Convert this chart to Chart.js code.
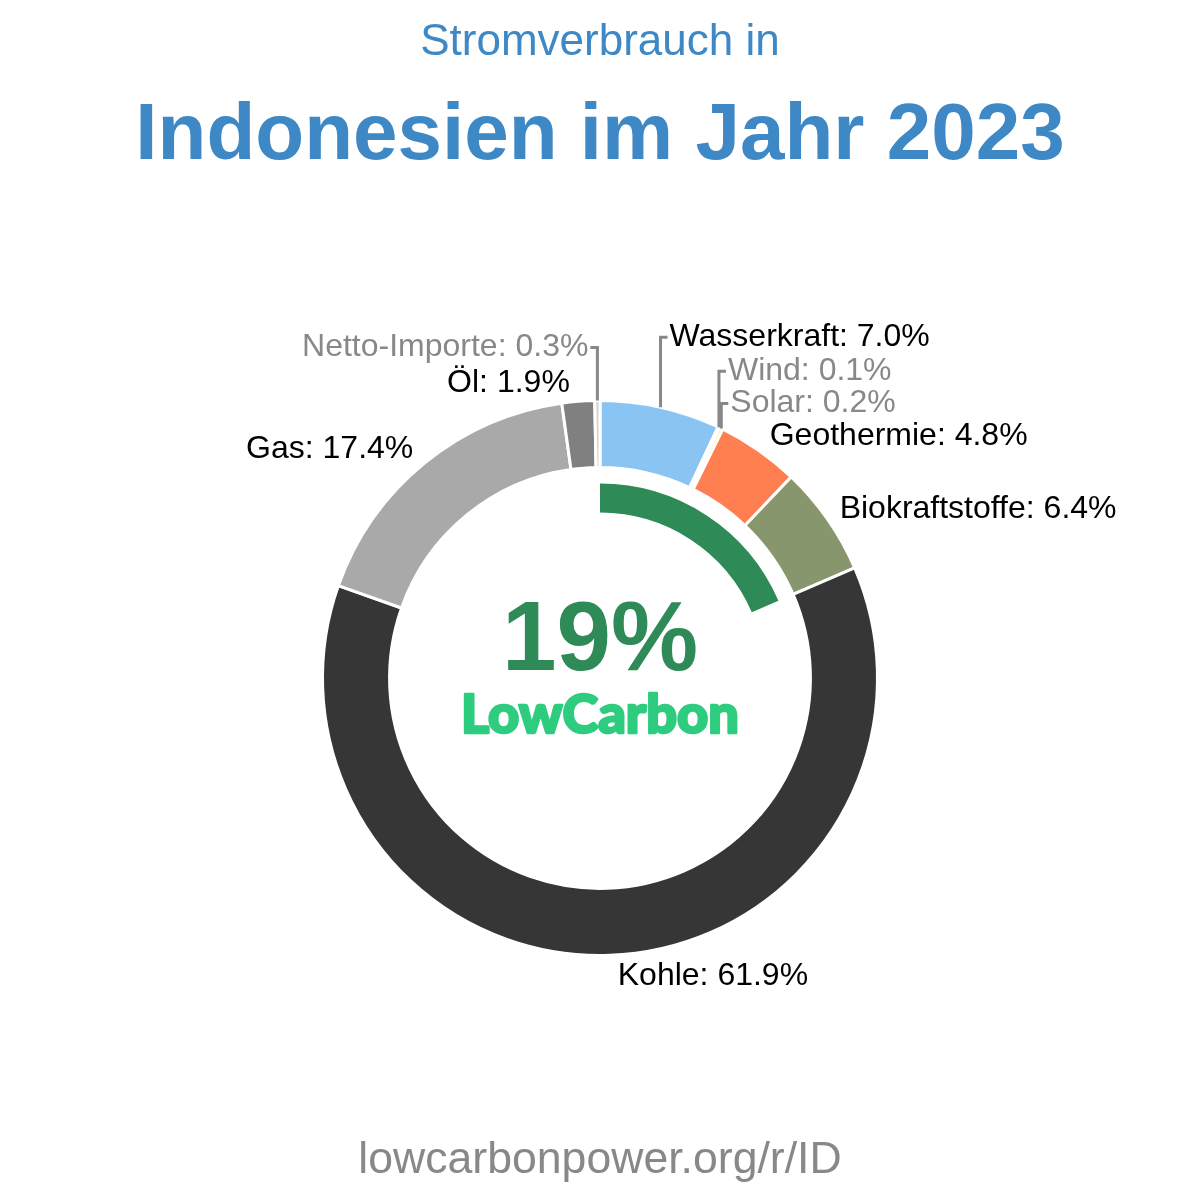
<!DOCTYPE html>
<html>
<head>
<meta charset="utf-8">
<script src="https://cdn.jsdelivr.net/npm/chart.js@4"></script>
<style>
  body { margin: 0; background: #fff; }
  canvas { display: block; }
</style>
</head>
<body>
<canvas id="mix" width="1200" height="1200"></canvas>
<script>
// Strommix Indonesien 2023 (Anteile in %)
const sources = ['Wasserkraft', 'Wind', 'Solar', 'Geothermie', 'Biokraftstoffe', 'Kohle', 'Gas', 'Öl', 'Netto-Importe'];
const shares = [7.0, 0.1, 0.2, 4.8, 6.4, 61.9, 17.4, 1.9, 0.3];
const sourceColors = ['#89c4f2', '#add8e6', '#ffd700', '#ff7f50', '#87966c', '#363636', '#a9a9a9', '#808080', '#d3d3d3'];
const lowCarbonSources = ['Wasserkraft', 'Wind', 'Solar', 'Geothermie', 'Biokraftstoffe'];

const titleTop = 'Stromverbrauch in';
const titleMain = 'Indonesien im Jahr 2023';
const footer = 'lowcarbonpower.org/r/ID';

// low carbon share = sum of the low carbon sources
let lowCarbon = 0;
sources.forEach((s, i) => {
    if (lowCarbonSources.includes(s)) lowCarbon += shares[i];
});
lowCarbon = Math.round(lowCarbon * 10) / 10;

// small slices get a leader line going up (how far, in px)
const leaderLift = { 'Wasserkraft': 70, 'Wind': 56, 'Solar': 25, 'Netto-Importe': 53 };

const labelFont = '32px "Liberation Sans", Arial, sans-serif';

const textPlugin = {
    id: 'texts',
    afterDatasetsDraw(chart) {
        const ctx = chart.ctx;
        const meta = chart.getDatasetMeta(0);
        ctx.save();

        // slice labels
        ctx.font = labelFont;
        ctx.textBaseline = 'middle';
        meta.data.forEach((arc, i) => {
            const p = arc.getProps(['x', 'y', 'startAngle', 'endAngle', 'outerRadius'], true);
            const a = (p.startAngle + p.endAngle) / 2;
            const h = Math.cos(a);   // + right
            const v = -Math.sin(a);  // + up
            const px = p.x + h * p.outerRadius;
            const py = p.y - v * p.outerRadius;
            const txt = sources[i] + ': ' + shares[i].toFixed(1) + '%';
            const dir = h >= 0 ? 1 : -1;
            ctx.fillStyle = shares[i] < 1 ? '#888888' : '#000000';
            ctx.textAlign = dir > 0 ? 'left' : 'right';

            const lift = leaderLift[sources[i]];
            if (lift) {
                ctx.strokeStyle = '#888888';
                ctx.lineWidth = 3;
                ctx.beginPath();
                ctx.moveTo(px, py);
                ctx.lineTo(px, py - lift);
                ctx.lineTo(px + dir * 7, py - lift);
                ctx.stroke();
                ctx.fillText(txt, px + dir * 9, py - lift);
            } else {
                const tx = px + dir * (8 + 5 * Math.abs(h));
                const ty = py - 19.5 * v + 1.5;
                ctx.fillText(txt, tx, ty);
            }
        });

        // centre text
        const cx = meta.data[0].x;
        ctx.textAlign = 'center';
        ctx.textBaseline = 'alphabetic';
        ctx.fillStyle = '#2e8b57';
        ctx.font = 'bold 98px "Liberation Sans", Arial, sans-serif';
        ctx.fillText(Math.round(lowCarbon) + '%', cx, 670);

        ctx.fillStyle = '#2ecc7f';
        ctx.strokeStyle = '#2ecc7f';
        ctx.lineWidth = 2.5;
        ctx.lineJoin = 'round';
        ctx.font = '900 53px Lato, sans-serif';
        const w = ctx.measureText('LowCarbon').width;
        ctx.save();
        ctx.translate(cx, 733);
        ctx.scale(278 / w, 1);
        ctx.fillText('LowCarbon', 0, 0);
        ctx.strokeText('LowCarbon', 0, 0);
        ctx.restore();

        // titles and footer
        ctx.fillStyle = '#3d88c5';
        ctx.font = '44px "Liberation Sans", Arial, sans-serif';
        ctx.fillText(titleTop, 600, 55);
        ctx.font = 'bold 80px "Liberation Sans", Arial, sans-serif';
        ctx.fillText(titleMain, 600, 159);

        ctx.fillStyle = '#888888';
        ctx.font = '44.6px "Liberation Sans", Arial, sans-serif';
        ctx.fillText(footer, 600, 1173);

        ctx.restore();
    }
};

new Chart(document.getElementById('mix'), {
    type: 'doughnut',
    data: {
        labels: sources,
        datasets: [
            {
                data: shares,
                backgroundColor: sourceColors,
                borderColor: '#ffffff',
                borderWidth: 3,
                weight: 67
            },
            {
                // empty ring between the two
                data: [100],
                backgroundColor: 'rgba(0,0,0,0)',
                borderWidth: 0,
                weight: 16
            },
            {
                data: [lowCarbon, 100 - lowCarbon],
                backgroundColor: ['#2e8b57', 'rgba(0,0,0,0)'],
                borderWidth: 0,
                weight: 29
            }
        ]
    },
    options: {
        responsive: false,
        animation: false,
        cutout: '59.6%',
        layout: {
            padding: { left: 321, right: 321, top: 399, bottom: 243 }
        },
        plugins: {
            legend: { display: false },
            tooltip: { enabled: false }
        }
    },
    plugins: [textPlugin]
});
</script>
</body>
</html>
